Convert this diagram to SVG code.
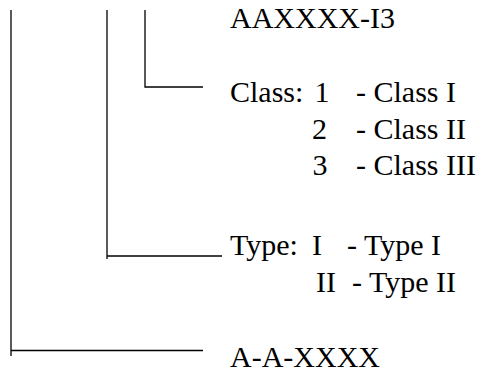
<svg xmlns="http://www.w3.org/2000/svg" width="484" height="374" viewBox="0 0 484 374">
<style>
text { font-family: "Liberation Serif", "Times New Roman", serif; font-size: 30px; fill: #000; }
.c { stroke: #000; stroke-width: 1.3; fill: none; }
</style>
<rect width="484" height="374" fill="#fff"/>
<g id="connectors">
<polyline class="c" points="11,10 11,356"/>
<line class="c" x1="11" y1="350.5" x2="203" y2="350.5"/>
<polyline class="c" points="107,10 107,259"/>
<line class="c" x1="107" y1="256" x2="222" y2="256"/>
<polyline class="c" points="145,10 145,87 203,87"/>
</g>
<g id="code">
<text x="230" y="28">AAXXXX-I3</text>
</g>
<g id="class">
<text x="230" y="102">Class:</text>
<text x="314.5" y="102">1</text>
<text x="356" y="102">- Class I</text>
<text x="312" y="138.5">2</text>
<text x="356" y="138.5">- Class II</text>
<text x="312.5" y="175">3</text>
<text x="356" y="175">- Class III</text>
</g>
<g id="type">
<text x="230" y="255">Type:</text>
<text x="312" y="255">I</text>
<text x="347" y="255">- Type I</text>
<text x="316" y="292">II</text>
<text x="352" y="292">- Type II</text>
</g>
<g id="base">
<text x="230" y="367">A-A-XXXX</text>
</g>
</svg>
